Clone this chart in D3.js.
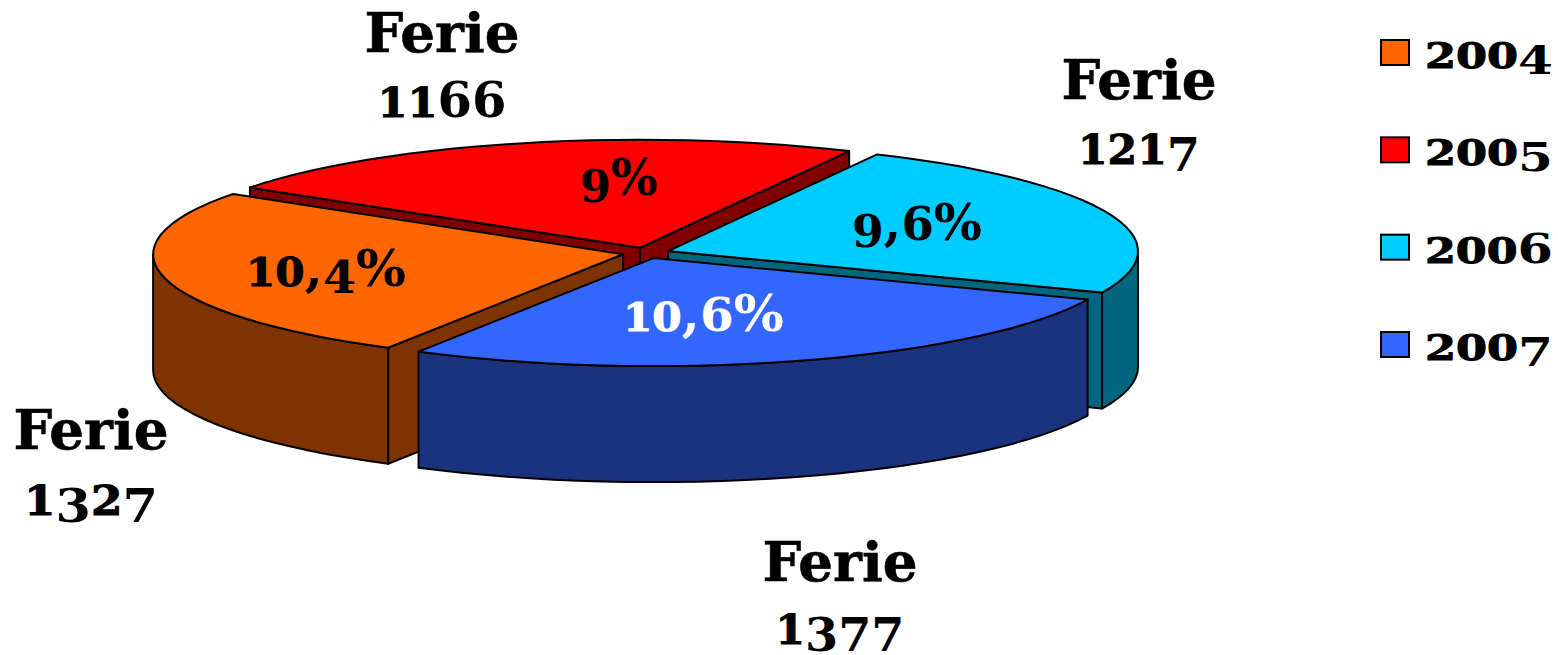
<!DOCTYPE html>
<html><head><meta charset="utf-8">
<script src="https://cdn.jsdelivr.net/npm/d3@7/dist/d3.min.js"></script>
<style>html,body{margin:0;padding:0;background:#fff}svg{display:block}
text{font-family:"DejaVu Serif",serif;font-weight:700;fill:#000}</style></head><body>
<svg id="c" width="1558" height="655"></svg>
<script>
const years = ["2004","2005","2006","2007"];
const values = [1327,1166,1217,1377];
const names = ["Ferie","Ferie","Ferie","Ferie"];
const percents = ["10,4%","9%","9,6%","10,6%"];
const topColors = ["#FF6600","#FF0000","#00CCFF","#3366FF"];
const sideColors = ["#7F3300","#800000","#006680","#1A337F"];
const percentColors = ["#000","#000","#000","#fff"];

const cx=646, cy=253, rx=470, ry=108, depth=116, explode=0.05, sw=2;
const svg=d3.select("#c");
const deg=Math.PI/180;
const pie=d3.pie().sort(null).startAngle(210*deg).endAngle(570*deg);
const arcs=pie(values);
const sx=d3.scaleLinear().domain([-1,1]).range([-rx,rx]);
const sy=d3.scaleLinear().domain([-1,1]).range([-ry,ry]);
const pt=(o,a,dz=0)=>[o[0]+sx(Math.sin(a)),o[1]+sy(-Math.cos(a))+dz];
const line=d3.line();
function range(a,b){const n=Math.max(2,Math.ceil((b-a)/(3*deg)));return d3.range(n+1).map(i=>a+(b-a)*i/n);}

// old-style figures: 0 1 2 sit at x-height, 3 4 5 7 9 hang below the baseline, 6 8 rise
function setText(sel,str,size,width,color="#000"){
  sel.text(null);
  let shift=0;
  for(const ch of str){
    let fs=size*0.92, dy=0, st=0;
    if("012".includes(ch)) {fs=size*0.8; st=1;}
    else if("34579".includes(ch)) {fs=size*0.9; dy=size*0.13;}
    else if(ch==="%"||ch===",") fs=size;
    sel.append("tspan").attr("font-size",fs).attr("dy",dy-shift)
      .style("fill",color).style("stroke",st?color:"none").style("stroke-width",st).text(ch);
    shift=dy;
  }
  sel.attr("textLength",width).attr("lengthAdjust","spacingAndGlyphs");
}
const items=arcs.map((d,i)=>{
  const mid=(d.startAngle+d.endAngle)/2;
  return {d,i,o:[cx+sx(Math.sin(mid))*explode, cy+sy(-Math.cos(mid))*explode]};
});
const style=(p,f)=>p.attr("fill",f).attr("stroke","#000").attr("stroke-width",sw).attr("stroke-linejoin","round");
for(const k of [1,2,0,3]){
  const {d,i,o}=items[k];
  const g=svg.append("g");
  const a0=d.startAngle,a1=d.endAngle;
  const face=a=>{const p=pt(o,a);return [o,p,[p[0],p[1]+depth],[o[0],o[1]+depth]];};
  if(Math.sin(a0)<0) style(g.append("path").attr("d",line(face(a0))+"Z"),sideColors[i]);
  if(Math.sin(a1)>0) style(g.append("path").attr("d",line(face(a1))+"Z"),sideColors[i]);
  for(const t of [0,360]){
    const lo=Math.max(a0,(90+t)*deg),hi=Math.min(a1,(270+t)*deg);
    if(hi>lo){
      const as=range(lo,hi);
      const pts=as.map(a=>pt(o,a)).concat(as.slice().reverse().map(a=>pt(o,a,depth)));
      style(g.append("path").attr("d",line(pts)+"Z"),sideColors[i]);
    }
  }
  style(g.append("path").attr("d",line([o].concat(range(a0,a1).map(a=>pt(o,a))))+"Z"),topColors[i]);
}
// percent labels: x, baseline, width
const pctPos=[[326,286,160],[619,195,78],[917,240,130],[703.5,331,161]];
percents.forEach((p,i)=>{
  setText(svg.append("text").attr("x",pctPos[i][0]).attr("y",pctPos[i][1]).attr("text-anchor","middle"),p,50,pctPos[i][2],percentColors[i]);
});
// category labels: x, name baseline, value baseline, value width
const labPos=[[91,449,515,134],[442,52,117,129],[1139,99,164,122],[840,581,644,129]];
values.forEach((v,i)=>{
  svg.append("text").attr("x",labPos[i][0]).attr("y",labPos[i][1]).attr("text-anchor","middle")
    .attr("font-size",55).style("stroke","#000").style("stroke-width",0.6)
    .attr("textLength",155).attr("lengthAdjust","spacingAndGlyphs").text(names[i]);
  setText(svg.append("text").attr("x",labPos[i][0]).attr("y",labPos[i][2]).attr("text-anchor","middle"),String(v),52,labPos[i][3]);
});
// legend
const ly=d3.scalePoint().domain(years).range([52,344]);
years.forEach((y,i)=>{
  svg.append("rect").attr("x",1381).attr("y",ly(y)-12).attr("width",28).attr("height",25).attr("fill",topColors[i]).attr("stroke","#000").attr("stroke-width",sw);
  setText(svg.append("text").attr("x",1425).attr("y",ly(y)+16),y,44,128);
});
</script></body></html>
